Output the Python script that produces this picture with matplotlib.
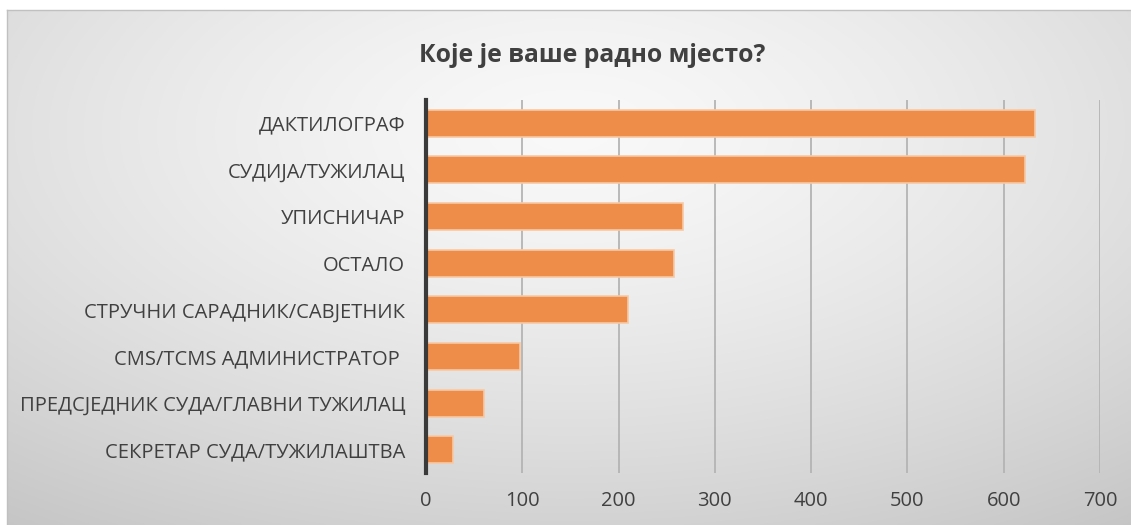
import matplotlib.pyplot as plt
import numpy as np

# data
categories = [
    "ДАКТИЛОГРАФ",
    "СУДИЈА/ТУЖИЛАЦ",
    "УПИСНИЧАР",
    "ОСТАЛО",
    "СТРУЧНИ САРАДНИК/САВЈЕТНИК",
    "CMS/TCMS АДМИНИСТРАТОР ",
    "ПРЕДСЈЕДНИК СУДА/ГЛАВНИ ТУЖИЛАЦ",
    "СЕКРЕТАР СУДА/ТУЖИЛАШТВА",
]
counts = [632, 622, 267, 258, 210, 98, 60, 28]
x_ticks = [0, 100, 200, 300, 400, 500, 600, 700]
title = "Које је ваше радно мјесто?"

plt.rcParams['font.family'] = ['Open Sans', 'DejaVu Sans']
text_color = "#404040"

W, H = 1131, 525
fig = plt.figure(figsize=(W / 100, H / 100), dpi=100)
fig.patch.set_facecolor("white")

# background panel with radial gradient
bg = fig.add_axes([7 / W, 0, 1 - 7 / W, 1 - 10 / H])
yy, xx = np.mgrid[0:300, 0:600]
cx, cy = 300, 70
r = np.sqrt(((xx - cx) / 600) ** 2 + ((yy - cy) / 330) ** 2)
r = r / r.max()
shade = 0.975 - 0.2 * r ** 1.4
bg.imshow(np.dstack([shade] * 3), aspect="auto", extent=[0, 1, 0, 1], origin="upper")
bg.set_xticks([])
bg.set_yticks([])
for s in bg.spines.values():
    s.set_color("#c0c0c0")
    s.set_linewidth(1)
bg.spines["right"].set_visible(False)
bg.spines["bottom"].set_visible(False)

ax = fig.add_axes([426 / W, 1 - 473 / H, (1100 - 426) / W, (473 - 100) / H])
ax.set_facecolor("none")

y = np.arange(len(categories))[::-1]
ax.barh(y, counts, height=0.58, color="#ee8c4a", edgecolor="#f7c9a3",
        linewidth=1.2, zorder=3)

ax.set_xlim(0, 700)
ax.set_ylim(-0.5, len(categories) - 0.5)
ax.set_xticks(x_ticks)
ax.set_yticks(y)
ax.set_yticklabels(categories)
ax.tick_params(axis="both", length=0, colors=text_color)
ax.tick_params(axis="y", pad=15, labelsize=14.5)
ax.tick_params(axis="x", pad=13, labelsize=14.5)
ax.grid(axis="x", color="#b4b4b4", linewidth=1.3, zorder=1)
for side in ["top", "right", "bottom"]:
    ax.spines[side].set_visible(False)
ax.spines["left"].set_color("#3a3a3a")
ax.spines["left"].set_linewidth(3)
ax.spines["left"].set_zorder(4)

fig.text(592 / W, 1 - 55 / H, title, ha="center", va="center",
         fontsize=17.8, fontweight="bold", color=text_color)

fig.savefig("out.png", dpi=100)
